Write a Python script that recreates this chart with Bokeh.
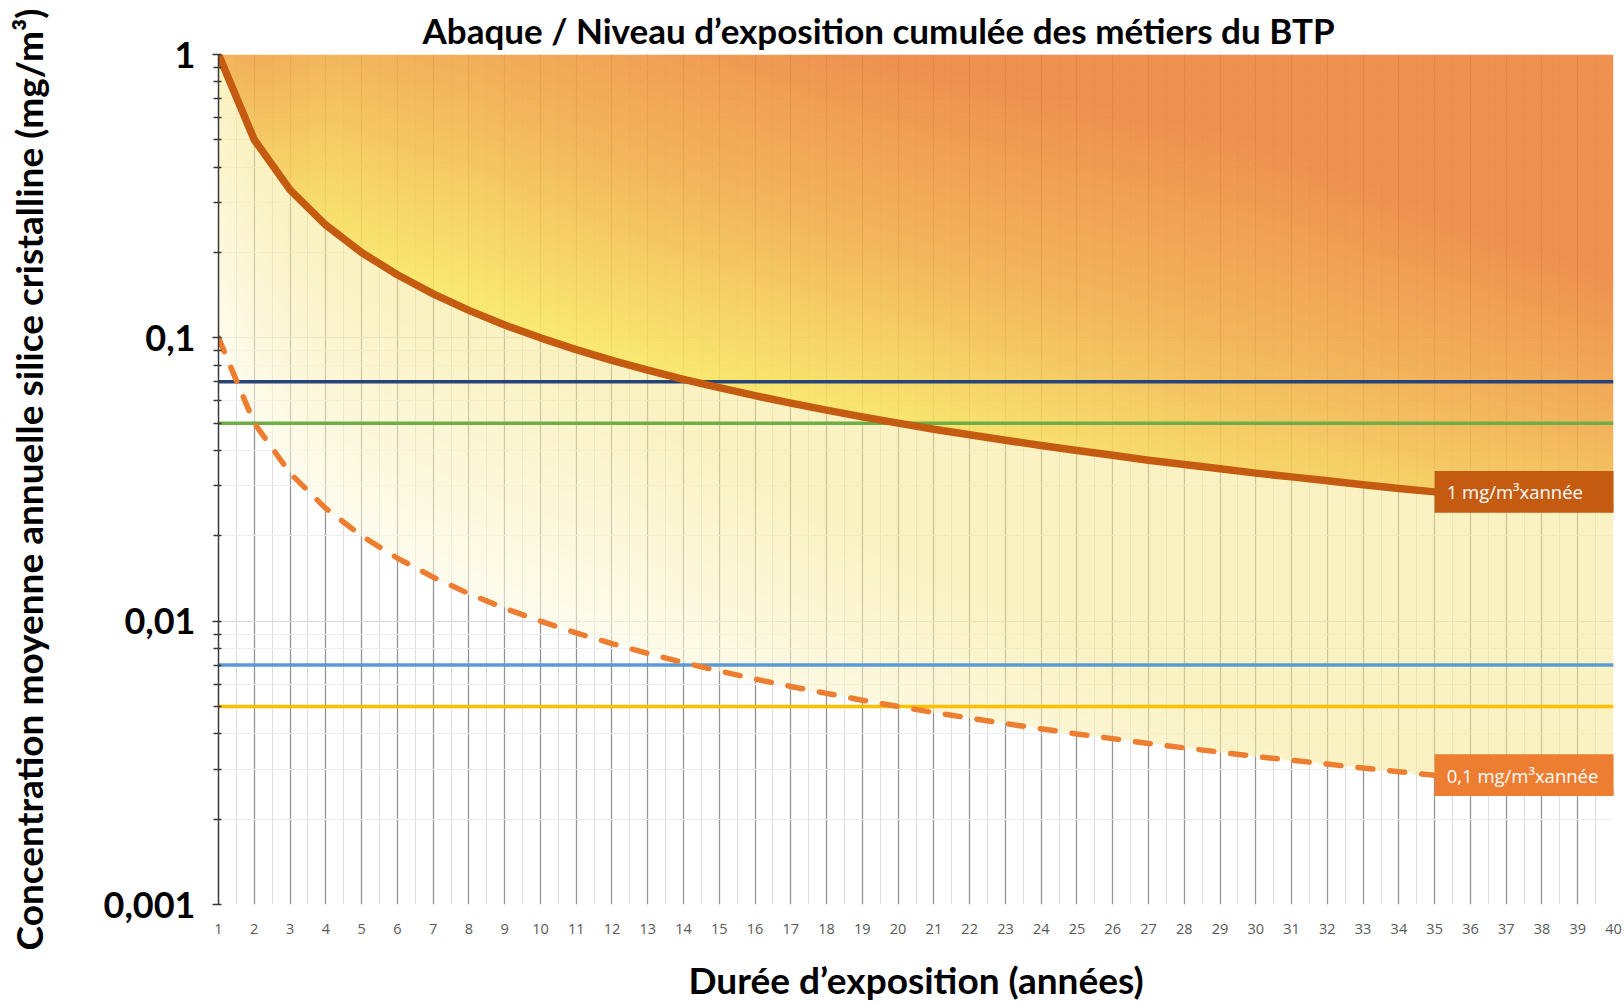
import numpy as np
from bokeh.plotting import figure
from bokeh.models import FixedTicker, Title, Range1d
from bokeh.core.properties import value
from bokeh.embed import file_html
from bokeh.resources import INLINE

# ---------------- data ----------------
years = list(range(1, 41))
# cumulative exposure 1 mg/m3 x year (solid curve)
conc_1 = [1, 0.5, 0.333, 0.25, 0.2, 0.167, 0.143, 0.125, 0.111, 0.1,
          0.0909, 0.0833, 0.0769, 0.0714, 0.0667, 0.0625, 0.0588, 0.0556, 0.0526, 0.05,
          0.0476, 0.0455, 0.0435, 0.0417, 0.04, 0.0385, 0.037, 0.0357, 0.0345, 0.0333,
          0.0323, 0.0313, 0.0303, 0.0294, 0.0286, 0.0278, 0.027, 0.0263, 0.0256, 0.025]
# cumulative exposure 0.1 mg/m3 x year (dashed curve)
conc_01 = [0.1, 0.05, 0.0333, 0.025, 0.02, 0.0167, 0.0143, 0.0125, 0.0111, 0.01,
           0.00909, 0.00833, 0.00769, 0.00714, 0.00667, 0.00625, 0.00588, 0.00556, 0.00526, 0.005,
           0.00476, 0.00455, 0.00435, 0.00417, 0.004, 0.00385, 0.0037, 0.00357, 0.00345, 0.00333,
           0.00323, 0.00313, 0.00303, 0.00294, 0.00286, 0.00278, 0.0027, 0.00263, 0.00256, 0.0025]
thresholds = [0.07, 0.05, 0.007, 0.005]
threshold_colors = ["#264478", "#70AD47", "#5B9BD5", "#FFC000"]
ytick_values = [0.001, 0.01, 0.1, 1]
ytick_labels = ["0,001", "0,01", "0,1", "1"]
label_texts = ["1 mg/m³xannée", "0,1 mg/m³xannée"]
label_year = 35
label_colors = ["#C55A11", "#ED7D31"]

title_text = "Abaque / Niveau d’exposition cumulée des métiers du BTP"
x_title = "Durée d’exposition (années)"
y_title = "Concentration moyenne annuelle silice cristalline (mg/m³)"

# ---------------- figure ----------------
p = figure(width=1624, height=1004, title=None,
           x_range=Range1d(1, 40), y_range=Range1d(0.001, 1), y_axis_type="log",
           output_backend="svg", toolbar_location=None,
           min_border_left=218, min_border_right=11, min_border_top=54, min_border_bottom=95,
           background_fill_color="white", border_fill_color="white", outline_line_color=None)

p.add_layout(Title(text=title_text, align="left", offset=204, standoff=8,
                   text_font="Lato", text_font_style="bold", text_font_size="35px",
                   text_color="#000000"), "above")

# ---------------- background gradient (decoration) ----------------
NX, NY = 700, 430
xv = 1 + (np.arange(NX) + 0.5) / NX * 39
lyv = -3 + (np.arange(NY) + 0.5) / NY * 3
LS = np.interp(xv, years, np.log10(conc_1))[None, :]
LD = np.interp(xv, years, np.log10(conc_01))[None, :]
X, LY = np.meshgrid(xv, lyv)
above = LY >= LS
between = (LY < LS) & (LY >= LD)

d = LY - LS
b = np.interp(X, [1, 2, 4, 8, 20, 30, 40], [0.5, 0.3, 0.08, 0.0, 0.05, 0.2, 0.3])
s = np.interp(X, [1, 3, 5, 10, 20, 30, 40], [0.8, 1.37, 1.55, 1.54, 1.37, 1.5, 1.2])
t = np.clip(b + d / s, 0, 1)[..., None]
yel = np.array([249, 236, 115], float)
mid = np.array([243, 182, 92], float)
org = np.array([238, 144, 80], float)
t1 = np.clip(t / 0.5, 0, 1)
t2 = np.clip((t - 0.5) / 0.5, 0, 1)
col_above = np.where(t <= 0.5, yel + (mid - yel) * t1, mid + (org - mid) * t2)

u = np.clip((LY - LD) / (LS - LD), 0, 1)
c = np.clip(0.25 + 0.8 * u + 0.7 * np.clip((X - 12) / 20, 0, 1), 0, 1)[..., None]
white = np.array([255, 255, 252], float)
cream = np.array([250, 242, 194], float)
col_between = white + (cream - white) * c

alpha = np.where(above, 0.9, np.where(between, 0.6, 0.0))[..., None]
target = np.where(above[..., None], col_above, col_between)
safe_a = np.where(alpha > 0, alpha, 1.0)
rgb = np.clip((target - (1 - alpha) * 255) / safe_a, 0, 255)

img = np.empty((NY, NX), dtype=np.uint32)
view = img.view(dtype=np.uint8).reshape((NY, NX, 4))
view[..., :3] = rgb.astype(np.uint8)
view[..., 3] = (alpha[..., 0] * 255).astype(np.uint8)
p.image_rgba(image=[img], x=years[0], y=ytick_values[0],
             dw=years[-1] - years[0], dh=ytick_values[-1] - ytick_values[0])

# ---------------- grid / axes ----------------
p.xaxis.ticker = FixedTicker(ticks=years, minor_ticks=[y + 0.5 for y in years[:-1]])
minor_y = [k * v for v in ytick_values[:-1] for k in range(2, 10)]
p.yaxis.ticker = FixedTicker(ticks=ytick_values, minor_ticks=minor_y)
p.yaxis.major_label_overrides = {v: l for v, l in zip(ytick_values, ytick_labels)}

p.xgrid.grid_line_color = "#959595"
p.xgrid.grid_line_width = 1.3
p.xgrid.minor_grid_line_color = "#DCDCDC"
p.xgrid.minor_grid_line_width = 1
p.ygrid.grid_line_color = "#D9D9D9"
p.ygrid.grid_line_width = 1
p.ygrid.minor_grid_line_color = "#EDEDED"
p.ygrid.minor_grid_line_width = 1

xa = p.xaxis[0]
xa.axis_line_color = None
xa.major_tick_line_color = None
xa.minor_tick_line_color = None
xa.major_label_text_font = "Open Sans"
xa.major_label_text_font_size = "14.5px"
xa.major_label_text_color = "#595959"
xa.major_label_standoff = 13
xa.axis_label = x_title
xa.axis_label_text_font = "Lato"
xa.axis_label_text_font_style = "bold"
xa.axis_label_text_font_size = "37px"
xa.axis_label_text_color = "#000000"
xa.axis_label_standoff = 20

ya = p.yaxis[0]
ya.axis_line_color = "#3A3A3A"
ya.axis_line_width = 1.5
ya.major_tick_line_color = "#3A3A3A"
ya.major_tick_line_width = 1.5
ya.major_tick_in = 3
ya.major_tick_out = 6
ya.minor_tick_line_color = "#3A3A3A"
ya.minor_tick_line_width = 1.3
ya.minor_tick_in = 3
ya.minor_tick_out = 5
ya.major_label_text_font = "Lato"
ya.major_label_text_font_style = "bold"
ya.major_label_text_font_size = "36px"
ya.major_label_text_color = "#000000"
ya.major_label_standoff = 17
ya.axis_label = y_title
ya.axis_label_text_font = "Lato"
ya.axis_label_text_font_style = "bold"
ya.axis_label_text_font_size = "37px"
ya.axis_label_text_color = "#000000"
ya.axis_label_standoff = 50

# ---------------- threshold lines ----------------
p.segment(x0=[years[0]] * len(thresholds), x1=[years[-1]] * len(thresholds),
          y0=thresholds, y1=thresholds, line_color=threshold_colors, line_width=3.5)

# ---------------- curves ----------------
p.line(years, conc_01, line_color="#ED7D31", line_width=5.5, line_dash="15 17",
       line_cap="round")
p.line(years, conc_1, line_color="#C55A11", line_width=7.5, line_join="round")

# ---------------- end labels ----------------
idx = years.index(label_year)
label_y = [conc_1[idx], conc_01[idx]]
p.quad(left=[label_year] * 2, right=[years[-1] + 0.3] * 2,
       top=[v * 1.185 for v in label_y], bottom=[v / 1.185 for v in label_y],
       fill_color=label_colors, line_color=None)
p.text(x=[label_year] * 2, y=label_y, text=label_texts, x_offset=12,
       text_baseline="middle", text_align="left", text_color="white",
       text_font=value("Open Sans"), text_font_size="18.5px")

open("out.html", "w").write(file_html(p, INLINE))
